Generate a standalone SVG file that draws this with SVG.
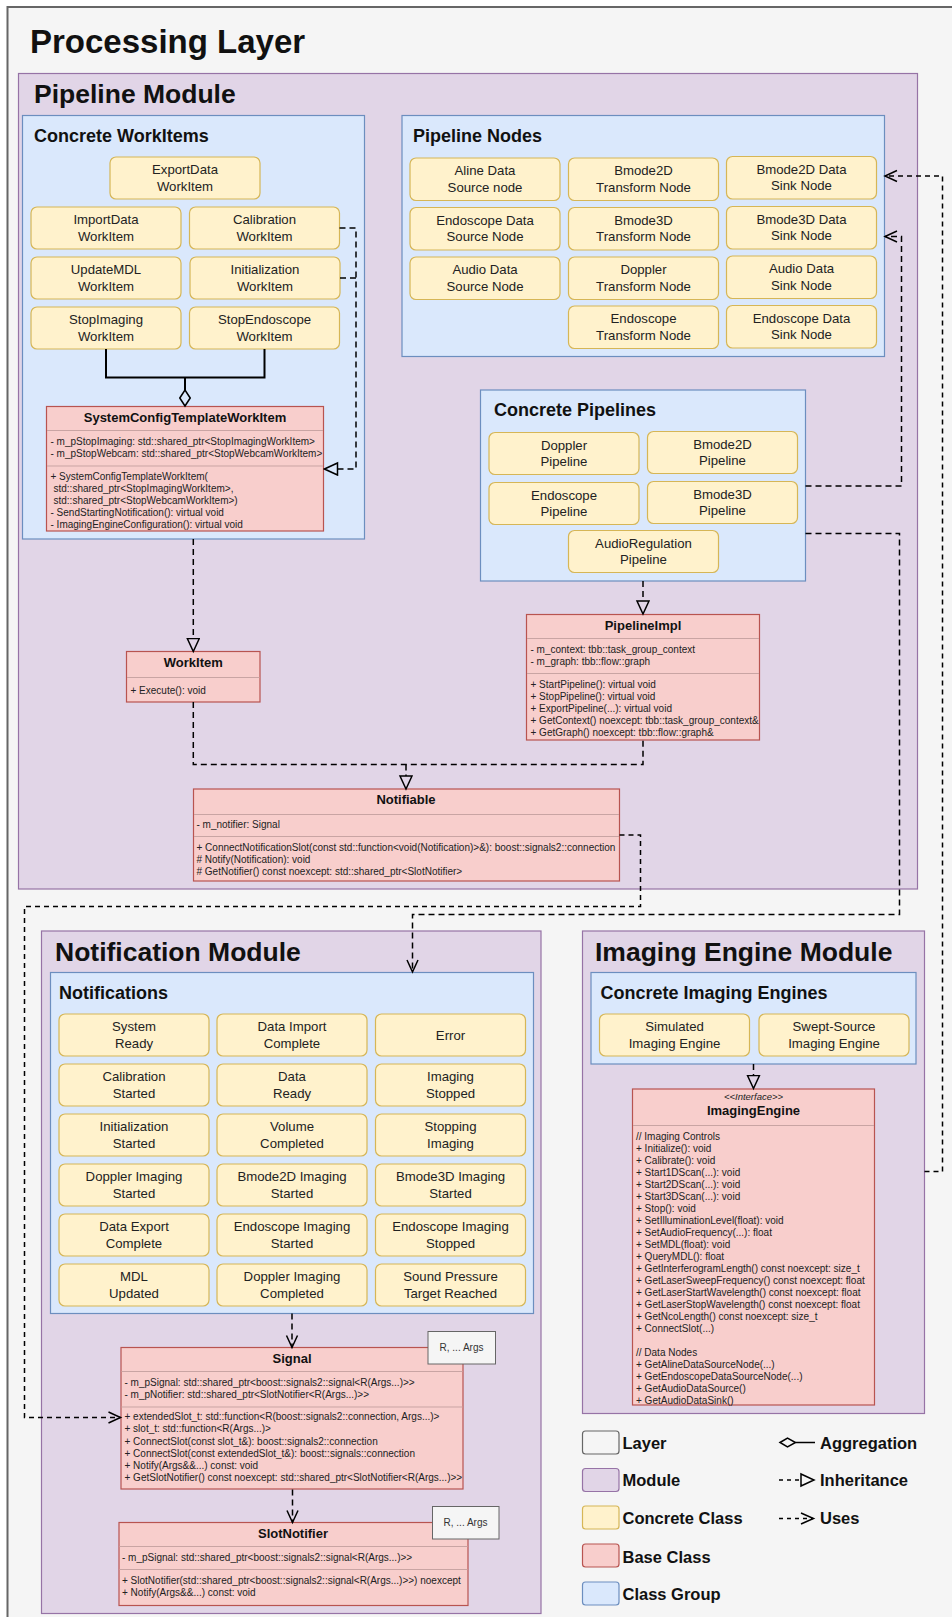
<svg xmlns="http://www.w3.org/2000/svg" width="952" height="1617" viewBox="0 0 952 1617">
  <style>
    text { font-family: "Liberation Sans", Arial, Helvetica, sans-serif; fill: #111; }
    .layer { fill: #f5f5f5; stroke: #666; stroke-width: 2; }
    .module { fill: #e1d5e7; stroke: #9673a6; stroke-width: 1.2; }
    .group { fill: #dae8fc; stroke: #6c8ebf; stroke-width: 1.2; }
    .cell { fill: #fff2cc; stroke: #d6b656; stroke-width: 1.2; }
    .cls { fill: #f8cecc; stroke: #b85450; stroke-width: 1.2; }
    .sep { stroke: #c9a4a3; stroke-width: 1; }
    .tpl { fill: #f5f5f5; stroke: #666; stroke-width: 1; }
    .h1 { font-size: 33px; font-weight: bold; }
    .h2 { font-size: 26.5px; font-weight: bold; }
    .h3 { font-size: 18px; font-weight: bold; }
    .ct { font-size: 13.2px; text-anchor: middle; fill: #222; }
    .cn { font-size: 13px; font-weight: bold; text-anchor: middle; }
    .st { font-size: 9.5px; font-style: italic; text-anchor: middle; fill: #222; }
    .m { font-size: 10px; fill: #222; }
    .tt { font-size: 10px; text-anchor: middle; fill: #333; }
    .lg { font-size: 16.5px; font-weight: bold; }
    .edge { fill: none; stroke: #000; stroke-width: 1.5; stroke-dasharray: 6 4; }
    .edge2 { fill: none; stroke: #000; stroke-width: 1.5; stroke-dasharray: 5 4; }
    .agg { fill: none; stroke: #000; stroke-width: 2; }
    .head { fill: none; stroke: #000; stroke-width: 1.5; stroke-dasharray: none; }
  </style>
  <defs>
    <!-- hollow triangle: path ends at the base, triangle extends forward -->
    <marker id="inherit" markerUnits="userSpaceOnUse" markerWidth="16" markerHeight="16" viewBox="0 0 16 16" refX="1" refY="7" orient="auto">
      <path class="head" d="M1,1 L14,7 L1,13 Z"/>
    </marker>
    <!-- open arrow: tip at path end -->
    <marker id="uses" markerUnits="userSpaceOnUse" markerWidth="16" markerHeight="14" viewBox="0 0 16 14" refX="13" refY="6.5" orient="auto">
      <path class="head" d="M1,1 L13,6.5 L1,12"/>
    </marker>
    <!-- hollow diamond for aggregation -->
    <marker id="diamond" markerUnits="userSpaceOnUse" markerWidth="18" markerHeight="12" viewBox="0 0 18 12" refX="0.5" refY="6" orient="auto">
      <path class="head" d="M0.5,6 L8.5,0.8 L16.5,6 L8.5,11.2 Z"/>
    </marker>
  </defs>

  <!-- Processing layer -->
  <g id="processing-layer">
    <rect class="layer" x="7.5" y="7" width="960" height="1620"/>
    <text class="h1" x="30" y="53">Processing Layer</text>
  </g>

  <!-- Pipeline module -->
  <g id="pipeline-module">
    <rect class="module" x="18.5" y="73.5" width="899" height="815.5"/>
    <text class="h2" x="34" y="103">Pipeline Module</text>
  </g>

  <g id="concrete-workitems">
    <rect class="group" x="22.5" y="115.5" width="342" height="423.5"/>
    <text class="h3" x="34" y="141.5">Concrete WorkItems</text>
  </g>
  <g id="exportdata-workitem">
    <rect class="cell" x="110" y="157" width="150" height="42" rx="6"/>
    <text class="ct" x="185" y="174.25">ExportData</text><text class="ct" x="185" y="190.75">WorkItem</text>
  </g>
  <g id="importdata-workitem">
    <rect class="cell" x="31" y="207" width="150" height="42" rx="6"/>
    <text class="ct" x="106" y="224.25">ImportData</text><text class="ct" x="106" y="240.75">WorkItem</text>
  </g>
  <g id="calibration-workitem">
    <rect class="cell" x="189.5" y="207" width="150" height="42" rx="6"/>
    <text class="ct" x="264.5" y="224.25">Calibration</text><text class="ct" x="264.5" y="240.75">WorkItem</text>
  </g>
  <g id="updatemdl-workitem">
    <rect class="cell" x="31" y="257" width="150" height="42" rx="6"/>
    <text class="ct" x="106" y="274.25">UpdateMDL</text><text class="ct" x="106" y="290.75">WorkItem</text>
  </g>
  <g id="initialization-workitem">
    <rect class="cell" x="190" y="257" width="150" height="42" rx="6"/>
    <text class="ct" x="265" y="274.25">Initialization</text><text class="ct" x="265" y="290.75">WorkItem</text>
  </g>
  <g id="stopimaging-workitem">
    <rect class="cell" x="31" y="307" width="150" height="42" rx="6"/>
    <text class="ct" x="106" y="324.25">StopImaging</text><text class="ct" x="106" y="340.75">WorkItem</text>
  </g>
  <g id="stopendoscope-workitem">
    <rect class="cell" x="189.5" y="307" width="150" height="42" rx="6"/>
    <text class="ct" x="264.5" y="324.25">StopEndoscope</text><text class="ct" x="264.5" y="340.75">WorkItem</text>
  </g>

  <g id="systemconfig-template-workitem">
    <rect class="cls" x="46.5" y="406.5" width="277" height="124.5"/>
    <line class="sep" x1="47" y1="430.5" x2="323" y2="430.5"/>
    <line class="sep" x1="47" y1="466" x2="323" y2="466"/>
    <text class="cn" x="185" y="421.5">SystemConfigTemplateWorkItem</text>
    <text class="m" x="50.5" y="444.5">- m_pStopImaging: std::shared_ptr&lt;StopImagingWorkItem&gt;</text>
    <text class="m" x="50.5" y="456.5">- m_pStopWebcam: std::shared_ptr&lt;StopWebcamWorkItem&gt;</text>
    <text class="m" x="50.5" y="480">+ SystemConfigTemplateWorkItem(</text>
    <text class="m" x="53.5" y="492">std::shared_ptr&lt;StopImagingWorkItem&gt;,</text>
    <text class="m" x="53.5" y="504">std::shared_ptr&lt;StopWebcamWorkItem&gt;)</text>
    <text class="m" x="50.5" y="516">- SendStartingNotification(): virtual void</text>
    <text class="m" x="50.5" y="528">- ImagingEngineConfiguration(): virtual void</text>
  </g>

  <g id="workitem">
    <rect class="cls" x="126.5" y="651.5" width="133.5" height="50.5"/>
    <line class="sep" x1="127" y1="677.5" x2="259.5" y2="677.5"/>
    <text class="cn" x="193.3" y="667">WorkItem</text>
    <text class="m" x="130.5" y="694">+ Execute(): void</text>
  </g>

  <g id="pipeline-nodes">
    <rect class="group" x="402" y="115.5" width="482.5" height="241"/>
    <text class="h3" x="413" y="141.5">Pipeline Nodes</text>
  </g>
  <g id="aline-source-node">
    <rect class="cell" x="410" y="158" width="150" height="42.5" rx="6"/>
    <text class="ct" x="485" y="175.25">Aline Data</text><text class="ct" x="485" y="191.75">Source node</text>
  </g>
  <g id="endoscope-source-node">
    <rect class="cell" x="410" y="207.5" width="150" height="42.5" rx="6"/>
    <text class="ct" x="485" y="224.75">Endoscope Data</text><text class="ct" x="485" y="241.25">Source Node</text>
  </g>
  <g id="audio-source-node">
    <rect class="cell" x="410" y="257" width="150" height="42.5" rx="6"/>
    <text class="ct" x="485" y="274.25">Audio Data</text><text class="ct" x="485" y="290.75">Source Node</text>
  </g>
  <g id="bmode2d-transform-node">
    <rect class="cell" x="568.5" y="158" width="150" height="42.5" rx="6"/>
    <text class="ct" x="643.5" y="175.25">Bmode2D</text><text class="ct" x="643.5" y="191.75">Transform Node</text>
  </g>
  <g id="bmode3d-transform-node">
    <rect class="cell" x="568.5" y="207.5" width="150" height="42.5" rx="6"/>
    <text class="ct" x="643.5" y="224.75">Bmode3D</text><text class="ct" x="643.5" y="241.25">Transform Node</text>
  </g>
  <g id="doppler-transform-node">
    <rect class="cell" x="568.5" y="257" width="150" height="42.5" rx="6"/>
    <text class="ct" x="643.5" y="274.25">Doppler</text><text class="ct" x="643.5" y="290.75">Transform Node</text>
  </g>
  <g id="endoscope-transform-node">
    <rect class="cell" x="568.5" y="306" width="150" height="42.5" rx="6"/>
    <text class="ct" x="643.5" y="323.25">Endoscope</text><text class="ct" x="643.5" y="339.75">Transform Node</text>
  </g>
  <g id="bmode2d-sink-node">
    <rect class="cell" x="726.5" y="156.5" width="150" height="42.5" rx="6"/>
    <text class="ct" x="801.5" y="173.75">Bmode2D Data</text><text class="ct" x="801.5" y="190.25">Sink Node</text>
  </g>
  <g id="bmode3d-sink-node">
    <rect class="cell" x="726.5" y="206.5" width="150" height="42.5" rx="6"/>
    <text class="ct" x="801.5" y="223.75">Bmode3D Data</text><text class="ct" x="801.5" y="240.25">Sink Node</text>
  </g>
  <g id="audio-sink-node">
    <rect class="cell" x="726.5" y="256" width="150" height="42.5" rx="6"/>
    <text class="ct" x="801.5" y="273.25">Audio Data</text><text class="ct" x="801.5" y="289.75">Sink Node</text>
  </g>
  <g id="endoscope-sink-node">
    <rect class="cell" x="726.5" y="305.5" width="150" height="42.5" rx="6"/>
    <text class="ct" x="801.5" y="322.75">Endoscope Data</text><text class="ct" x="801.5" y="339.25">Sink Node</text>
  </g>

  <g id="concrete-pipelines">
    <rect class="group" x="480.5" y="390" width="325" height="191"/>
    <text class="h3" x="494" y="416">Concrete Pipelines</text>
  </g>
  <g id="doppler-pipeline">
    <rect class="cell" x="489" y="432.5" width="150" height="42" rx="6"/>
    <text class="ct" x="564" y="449.75">Doppler</text><text class="ct" x="564" y="466.25">Pipeline</text>
  </g>
  <g id="bmode2d-pipeline">
    <rect class="cell" x="647.5" y="431.5" width="150" height="42" rx="6"/>
    <text class="ct" x="722.5" y="448.75">Bmode2D</text><text class="ct" x="722.5" y="465.25">Pipeline</text>
  </g>
  <g id="endoscope-pipeline">
    <rect class="cell" x="489" y="482.5" width="150" height="42" rx="6"/>
    <text class="ct" x="564" y="499.75">Endoscope</text><text class="ct" x="564" y="516.25">Pipeline</text>
  </g>
  <g id="bmode3d-pipeline">
    <rect class="cell" x="647.5" y="481.5" width="150" height="42" rx="6"/>
    <text class="ct" x="722.5" y="498.75">Bmode3D</text><text class="ct" x="722.5" y="515.25">Pipeline</text>
  </g>
  <g id="audioregulation-pipeline">
    <rect class="cell" x="568.5" y="530.5" width="150" height="42" rx="6"/>
    <text class="ct" x="643.5" y="547.75">AudioRegulation</text><text class="ct" x="643.5" y="564.25">Pipeline</text>
  </g>

  <g id="pipeline-impl">
    <rect class="cls" x="526.5" y="614.5" width="233" height="125.5"/>
    <line class="sep" x1="527" y1="638.5" x2="759" y2="638.5"/>
    <line class="sep" x1="527" y1="673.5" x2="759" y2="673.5"/>
    <text class="cn" x="643" y="629.5">PipelineImpl</text>
    <text class="m" x="530.5" y="652.5">- m_context: tbb::task_group_context</text>
    <text class="m" x="530.5" y="665">- m_graph: tbb::flow::graph</text>
    <text class="m" x="530.5" y="687.5">+ StartPipeline(): virtual void</text>
    <text class="m" x="530.5" y="699.5">+ StopPipeline(): virtual void</text>
    <text class="m" x="530.5" y="711.5">+ ExportPipeline(...): virtual void</text>
    <text class="m" x="530.5" y="723.5">+ GetContext() noexcept: tbb::task_group_context&amp;</text>
    <text class="m" x="530.5" y="735.5">+ GetGraph() noexcept: tbb::flow::graph&amp;</text>
  </g>

  <g id="notifiable">
    <rect class="cls" x="193.5" y="789" width="426" height="92"/>
    <line class="sep" x1="194" y1="814.5" x2="619" y2="814.5"/>
    <line class="sep" x1="194" y1="836.5" x2="619" y2="836.5"/>
    <text class="cn" x="406" y="804">Notifiable</text>
    <text class="m" x="196.5" y="827.5">- m_notifier: Signal</text>
    <text class="m" x="196.5" y="851">+ ConnectNotificationSlot(const std::function&lt;void(Notification)&gt;&amp;): boost::signals2::connection</text>
    <text class="m" x="196.5" y="863">
# Notify(Notification): void</text>
    <text class="m" x="196.5" y="875"># GetNotifier() const noexcept: std::shared_ptr&lt;SlotNotifier&gt;</text>
  </g>

  <!-- Notification module -->
  <g id="notification-module">
    <rect class="module" x="41.5" y="931" width="499.5" height="682.5"/>
    <text class="h2" x="55" y="961">Notification Module</text>
  </g>
  <g id="notifications">
    <rect class="group" x="50.5" y="972.5" width="483" height="341"/>
    <text class="h3" x="59" y="998.5">Notifications</text>
  </g>
  <g id="system-ready">
    <rect class="cell" x="59" y="1014" width="150" height="42" rx="6"/>
    <text class="ct" x="134" y="1031.25">System</text><text class="ct" x="134" y="1047.75">Ready</text>
  </g>
  <g id="data-import-complete">
    <rect class="cell" x="217" y="1014" width="150" height="42" rx="6"/>
    <text class="ct" x="292" y="1031.25">Data Import</text><text class="ct" x="292" y="1047.75">Complete</text>
  </g>
  <g id="error">
    <rect class="cell" x="375.5" y="1014" width="150" height="42" rx="6"/>
    <text class="ct" x="450.5" y="1039.5">Error</text>
  </g>
  <g id="calibration-started">
    <rect class="cell" x="59" y="1064" width="150" height="42" rx="6"/>
    <text class="ct" x="134" y="1081.25">Calibration</text><text class="ct" x="134" y="1097.75">Started</text>
  </g>
  <g id="data-ready">
    <rect class="cell" x="217" y="1064" width="150" height="42" rx="6"/>
    <text class="ct" x="292" y="1081.25">Data</text><text class="ct" x="292" y="1097.75">Ready</text>
  </g>
  <g id="imaging-stopped">
    <rect class="cell" x="375.5" y="1064" width="150" height="42" rx="6"/>
    <text class="ct" x="450.5" y="1081.25">Imaging</text><text class="ct" x="450.5" y="1097.75">Stopped</text>
  </g>
  <g id="initialization-started">
    <rect class="cell" x="59" y="1114" width="150" height="42" rx="6"/>
    <text class="ct" x="134" y="1131.25">Initialization</text><text class="ct" x="134" y="1147.75">Started</text>
  </g>
  <g id="volume-completed">
    <rect class="cell" x="217" y="1114" width="150" height="42" rx="6"/>
    <text class="ct" x="292" y="1131.25">Volume</text><text class="ct" x="292" y="1147.75">Completed</text>
  </g>
  <g id="stopping-imaging">
    <rect class="cell" x="375.5" y="1114" width="150" height="42" rx="6"/>
    <text class="ct" x="450.5" y="1131.25">Stopping</text><text class="ct" x="450.5" y="1147.75">Imaging</text>
  </g>
  <g id="doppler-imaging-started">
    <rect class="cell" x="59" y="1164" width="150" height="42" rx="6"/>
    <text class="ct" x="134" y="1181.25">Doppler Imaging</text><text class="ct" x="134" y="1197.75">Started</text>
  </g>
  <g id="bmode2d-imaging-started">
    <rect class="cell" x="217" y="1164" width="150" height="42" rx="6"/>
    <text class="ct" x="292" y="1181.25">Bmode2D Imaging</text><text class="ct" x="292" y="1197.75">Started</text>
  </g>
  <g id="bmode3d-imaging-started">
    <rect class="cell" x="375.5" y="1164" width="150" height="42" rx="6"/>
    <text class="ct" x="450.5" y="1181.25">Bmode3D Imaging</text><text class="ct" x="450.5" y="1197.75">Started</text>
  </g>
  <g id="data-export-complete">
    <rect class="cell" x="59" y="1214" width="150" height="42" rx="6"/>
    <text class="ct" x="134" y="1231.25">Data Export</text><text class="ct" x="134" y="1247.75">Complete</text>
  </g>
  <g id="endoscope-imaging-started">
    <rect class="cell" x="217" y="1214" width="150" height="42" rx="6"/>
    <text class="ct" x="292" y="1231.25">Endoscope Imaging</text><text class="ct" x="292" y="1247.75">Started</text>
  </g>
  <g id="endoscope-imaging-stopped">
    <rect class="cell" x="375.5" y="1214" width="150" height="42" rx="6"/>
    <text class="ct" x="450.5" y="1231.25">Endoscope Imaging</text><text class="ct" x="450.5" y="1247.75">Stopped</text>
  </g>
  <g id="mdl-updated">
    <rect class="cell" x="59" y="1264" width="150" height="42" rx="6"/>
    <text class="ct" x="134" y="1281.25">MDL</text><text class="ct" x="134" y="1297.75">Updated</text>
  </g>
  <g id="doppler-imaging-completed">
    <rect class="cell" x="217" y="1264" width="150" height="42" rx="6"/>
    <text class="ct" x="292" y="1281.25">Doppler Imaging</text><text class="ct" x="292" y="1297.75">Completed</text>
  </g>
  <g id="sound-pressure-target-reached">
    <rect class="cell" x="375.5" y="1264" width="150" height="42" rx="6"/>
    <text class="ct" x="450.5" y="1281.25">Sound Pressure</text><text class="ct" x="450.5" y="1297.75">Target Reached</text>
  </g>

  <g id="signal">
    <rect class="cls" x="121" y="1347.5" width="342" height="141.5"/>
    <line class="sep" x1="121.5" y1="1371.5" x2="462.5" y2="1371.5"/>
    <line class="sep" x1="121.5" y1="1407" x2="462.5" y2="1407"/>
    <text class="cn" x="292" y="1363">Signal</text>
    <text class="m" x="124.5" y="1386">- m_pSignal: std::shared_ptr&lt;boost::signals2::signal&lt;R(Args...)&gt;&gt;</text>
    <text class="m" x="124.5" y="1398">- m_pNotifier: std::shared_ptr&lt;SlotNotifier&lt;R(Args...)&gt;&gt;</text>
    <text class="m" x="124.5" y="1420">+ extendedSlot_t: std::function&lt;R(boost::signals2::connection, Args...)&gt;</text>
    <text class="m" x="124.5" y="1432">+ slot_t: std::function&lt;R(Args...)&gt;</text>
    <text class="m" x="124.5" y="1444.5">+ ConnectSlot(const slot_t&amp;): boost::signals2::connection</text>
    <text class="m" x="124.5" y="1456.5">+ ConnectSlot(const extendedSlot_t&amp;): boost::signals::connection</text>
    <text class="m" x="124.5" y="1468.5">+ Notify(Args&amp;&amp;...) const: void</text>
    <text class="m" x="124.5" y="1480.5">+ GetSlotNotifier() const noexcept: std::shared_ptr&lt;SlotNotifier&lt;R(Args...)&gt;&gt;</text>
    <rect class="tpl" x="428" y="1331.5" width="67.5" height="32.5"/>
    <text class="tt" x="461.5" y="1351">R, ... Args</text>
  </g>

  <g id="slot-notifier">
    <rect class="cls" x="119" y="1522.5" width="349" height="83"/>
    <line class="sep" x1="119.5" y1="1546.5" x2="467.5" y2="1546.5"/>
    <line class="sep" x1="119.5" y1="1569.5" x2="467.5" y2="1569.5"/>
    <text class="cn" x="293" y="1537.5">SlotNotifier</text>
    <text class="m" x="122" y="1560.5">- m_pSignal: std::shared_ptr&lt;boost::signals2::signal&lt;R(Args...)&gt;&gt;</text>
    <text class="m" x="122" y="1584">+ SlotNotifier(std::shared_ptr&lt;boost::signals2::signal&lt;R(Args...)&gt;&gt;) noexcept</text>
    <text class="m" x="122" y="1596">+ Notify(Args&amp;&amp;...) const: void</text>
    <rect class="tpl" x="432.5" y="1506.5" width="66.5" height="32.5"/>
    <text class="tt" x="465.5" y="1526">R, ... Args</text>
  </g>

  <!-- Imaging engine module -->
  <g id="imaging-engine-module">
    <rect class="module" x="582.5" y="931" width="342" height="482.5"/>
    <text class="h2" x="595" y="961">Imaging Engine Module</text>
  </g>
  <g id="concrete-imaging-engines">
    <rect class="group" x="591" y="972.5" width="325" height="91.5"/>
    <text class="h3" x="600.5" y="998.5">Concrete Imaging Engines</text>
  </g>
  <g id="simulated-imaging-engine">
    <rect class="cell" x="599.5" y="1014" width="150" height="42" rx="6"/>
    <text class="ct" x="674.5" y="1031.25">Simulated</text><text class="ct" x="674.5" y="1047.75">Imaging Engine</text>
  </g>
  <g id="swept-source-imaging-engine">
    <rect class="cell" x="759" y="1014" width="150" height="42" rx="6"/>
    <text class="ct" x="834" y="1031.25">Swept-Source</text><text class="ct" x="834" y="1047.75">Imaging Engine</text>
  </g>
  <g id="imaging-engine">
    <rect class="cls" x="632.5" y="1089" width="242" height="316"/>
    <line class="sep" x1="633" y1="1125.5" x2="874" y2="1125.5"/>
    <text class="st" x="753.5" y="1100">&lt;&lt;Interface&gt;&gt;</text>
    <text class="cn" x="753.5" y="1115">ImagingEngine</text>
    <text class="m" x="636" y="1139.5">// Imaging Controls</text>
    <text class="m" x="636" y="1151.5">+ Initialize(): void</text>
    <text class="m" x="636" y="1163.5">+ Calibrate(): void</text>
    <text class="m" x="636" y="1175.5">+ Start1DScan(...): void</text>
    <text class="m" x="636" y="1187.5">+ Start2DScan(...): void</text>
    <text class="m" x="636" y="1199.5">+ Start3DScan(...): void</text>
    <text class="m" x="636" y="1211.5">+ Stop(): void</text>
    <text class="m" x="636" y="1223.5">+ SetIlluminationLevel(float): void</text>
    <text class="m" x="636" y="1235.5">+ SetAudioFrequency(...): float</text>
    <text class="m" x="636" y="1247.5">+ SetMDL(float): void</text>
    <text class="m" x="636" y="1259.5">+ QueryMDL(): float</text>
    <text class="m" x="636" y="1271.5">+ GetInterferogramLength() const noexcept: size_t</text>
    <text class="m" x="636" y="1283.5">+ GetLaserSweepFrequency() const noexcept: float</text>
    <text class="m" x="636" y="1295.5">+ GetLaserStartWavelength() const noexcept: float</text>
    <text class="m" x="636" y="1307.5">+ GetLaserStopWavelength() const noexcept: float</text>
    <text class="m" x="636" y="1319.5">+ GetNcoLength() const noexcept: size_t</text>
    <text class="m" x="636" y="1331.5">+ ConnectSlot(...)</text>
    <text class="m" x="636" y="1355.5">// Data Nodes</text>
    <text class="m" x="636" y="1367.5">+ GetAlineDataSourceNode(...)</text>
    <text class="m" x="636" y="1379.5">+ GetEndoscopeDataSourceNode(...)</text>
    <text class="m" x="636" y="1391.5">+ GetAudioDataSource()</text>
    <text class="m" x="636" y="1403.5">+ GetAudioDataSink()</text>
  </g>

  <!-- Connectors -->
  <g id="connectors">
    <!-- aggregation of stop work items -->
    <path class="agg" d="M106,349 V377.5 H264.5 V349"/>
    <path class="agg" d="M185,377.5 V390" marker-end="url(#diamond)"/>
    <!-- work items inherit from SystemConfigTemplateWorkItem -->
    <path class="edge" d="M339.5,228 H356 V469 H337.5" marker-end="url(#inherit)"/>
    <path class="edge" d="M340,278 H356"/>
    <!-- SystemConfig group -> WorkItem -->
    <path class="edge" d="M193.3,539 V638.5" marker-end="url(#inherit)"/>
    <!-- Concrete pipelines -> PipelineImpl -->
    <path class="edge" d="M643,581 V601" marker-end="url(#inherit)"/>
    <!-- WorkItem / PipelineImpl -> Notifiable -->
    <path class="edge" d="M193.3,702 V764.5 H643 V740"/>
    <path class="edge" d="M406,764.5 V776" marker-end="url(#inherit)"/>
    <!-- Notifiable uses Signal -->
    <path class="edge2" d="M619.5,835 H640.5 V906.5 H24.5 V1417.5 H120.5" marker-end="url(#uses)"/>
    <!-- Concrete pipelines use notifications -->
    <path class="edge" d="M805.5,533.5 H899.5 V914.5 H412.5 V972" marker-end="url(#uses)"/>
    <!-- Concrete pipelines use pipeline nodes -->
    <path class="edge" d="M805.5,486 H901.5 V236.5 H885" marker-end="url(#uses)"/>
    <!-- Imaging engine uses pipeline nodes -->
    <path class="edge2" d="M924.5,1171.5 H942.5 V176 H885" marker-end="url(#uses)"/>
    <!-- Imaging engines -> ImagingEngine -->
    <path class="edge" d="M753.5,1064 V1075.5" marker-end="url(#inherit)"/>
    <!-- Notifications -> Signal -> SlotNotifier -->
    <path class="edge" d="M292,1313.5 V1347.5" marker-end="url(#uses)"/>
    <path class="edge" d="M292.5,1489.5 V1522.5" marker-end="url(#uses)"/>
  </g>

  <!-- Legend -->
  <g id="legend">
    <rect class="layer" style="stroke-width:1.2" x="582.5" y="1431" width="36.5" height="23" rx="3"/>
    <text class="lg" x="622.5" y="1448.5">Layer</text>
    <rect class="module" x="582.5" y="1468.5" width="36.5" height="23" rx="3"/>
    <text class="lg" x="622.5" y="1486">Module</text>
    <rect class="cell" x="582.5" y="1506" width="36.5" height="23" rx="3"/>
    <text class="lg" x="622.5" y="1524">Concrete Class</text>
    <rect class="cls" x="582.5" y="1544" width="36.5" height="23" rx="3"/>
    <text class="lg" x="622.5" y="1562.5">Base Class</text>
    <rect class="group" x="582.5" y="1582" width="36.5" height="23" rx="3"/>
    <text class="lg" x="622.5" y="1600">Class Group</text>

    <path class="agg" style="stroke-width:1.5" d="M815,1442.5 H795.5"/>
    <path class="head" d="M780,1442.5 L787.5,1438 L795.5,1442.5 L787.5,1447 Z"/>
    <text class="lg" x="820" y="1448.5">Aggregation</text>
    <path class="edge" style="stroke-dasharray:4 4" d="M779,1480 H801"/>
    <path class="head" d="M801,1474 L814,1480 L801,1486 Z"/>
    <text class="lg" x="820" y="1486">Inheritance</text>
    <path class="edge" style="stroke-dasharray:4 4" d="M779,1518.5 H813"/>
    <path class="head" d="M801,1513 L813.5,1518.5 L801,1524"/>
    <text class="lg" x="820" y="1524">Uses</text>
  </g>
</svg>
